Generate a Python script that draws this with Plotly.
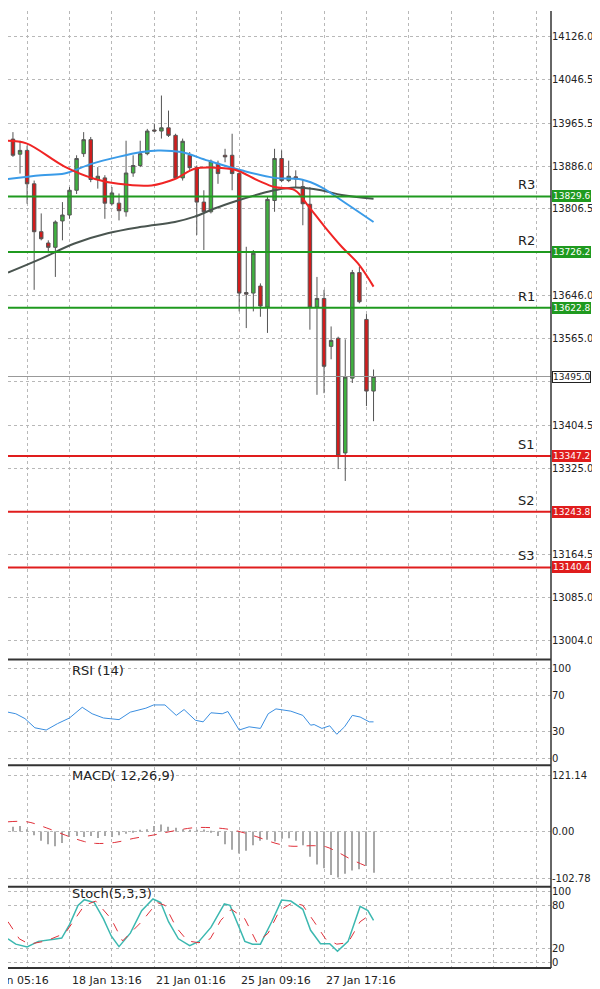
import plotly.graph_objects as go

# candles (4h-ish bars), index 0..51
opens = [13936, 13908, 13915, 13853, 13764, 13743, 13735, 13784, 13795, 13841, 13909, 13935, 13861,
         13864, 13816, 13817, 13801, 13873, 13887, 13909, 13953, 13951, 13957, 13943, 13864, 13906,
         13883, 13819, 13801, 13891, 13906, 13906, 13872, 13651, 13650, 13663, 13624, 13822, 13900,
         13859, 13866, 13848, 13815, 13624, 13640, 13551, 13566, 13353, 13492, 13688, 13601, 13468]
highs = [13949, 13933, 13924, 13859, 13798, 13748, 13785, 13819, 13847, 13906, 13949, 13940, 13884,
         13869, 13847, 13835, 13933, 13906, 13933, 13955, 13964, 14017, 13989, 13946, 13937, 13912,
         13887, 13841, 13898, 13896, 13918, 13946, 13878, 13736, 13730, 13668, 13829, 13918, 13915,
         13896, 13878, 13862, 13847, 13680, 13656, 13588, 13569, 13564, 13693, 13699, 13611, 13508]
lows = [13903, 13872, 13816, 13656, 13748, 13724, 13680, 13748, 13788, 13834, 13903, 13856, 13844,
        13788, 13813, 13785, 13792, 13866, 13884, 13906, 13949, 13937, 13940, 13862, 13859, 13878,
        13758, 13730, 13798, 13853, 13893, 13841, 13616, 13585, 13616, 13606, 13576, 13801, 13856,
        13856, 13847, 13776, 13582, 13461, 13464, 13527, 13323, 13301, 13483, 13631, 13440, 13412]
closes = [13906, 13915, 13853, 13764, 13751, 13735, 13782, 13795, 13841, 13900, 13935, 13861, 13867,
          13817, 13836, 13803, 13873, 13887, 13909, 13951, 13951, 13957, 13943, 13864, 13932, 13883,
          13819, 13801, 13895, 13872, 13903, 13872, 13650, 13648, 13724, 13626, 13824, 13900, 13859,
          13867, 13862, 13816, 13624, 13640, 13514, 13562, 13348, 13494, 13688, 13634, 13468, 13495]

ma_fast_x = [-0.7, 1.9, 7.3, 11.6, 14.9, 19.6, 22.9, 25.7, 28.5, 31.4, 34.7, 37, 39.9, 41.7, 44.1, 46.5, 48.8, 51]
ma_fast = [13933, 13928, 13885, 13862, 13853, 13850, 13862, 13881, 13883, 13879, 13859, 13847, 13841, 13813, 13773, 13736, 13705, 13662]
ma_mid_x = [-0.7, 4, 7.3, 11.1, 14.9, 18.2, 20.5, 23.8, 27.6, 32.3, 37, 40.8, 43.6, 46.5, 51]
ma_mid = [13862, 13869, 13872, 13890, 13903, 13912, 13915, 13912, 13896, 13878, 13864, 13861, 13847, 13822, 13782]
ma_slow_x = [-0.7, 4, 8.7, 13.4, 18.2, 22.9, 25.7, 28.5, 31.8, 35.1, 37, 39.9, 43.6, 46.5, 51]
ma_slow = [13688, 13714, 13742, 13761, 13773, 13782, 13792, 13807, 13822, 13835, 13841, 13846, 13841, 13832, 13825]

levels = {"R3": 13829.6, "R2": 13726.2, "R1": 13622.8, "S1": 13347.2, "S2": 13243.8, "S3": 13140.4}
last_price = 13495.0
price_ticks = [14126.0, 14046.5, 13965.5, 13886.0, 13806.5, 13726.2, 13646.0, 13565.0, 13485.5,
               13404.5, 13325.0, 13245.0, 13164.5, 13085.0, 13004.0]
price_labels = ["14126.0", "14046.5", "13965.5", "13886.0", "13806.5", "", "13646.0", "13565.0", "",
                "13404.5", "13325.0", "", "13164.5", "13085.0", "13004.0"]

rsi_x = [-0.7, 0.4, 1.7, 3.1, 4.7, 6.3, 8, 9.8, 11.2, 12.8, 15, 16.6, 18.8, 19.9, 21.5, 23.1, 24.2, 25.8,
         26.9, 28, 29.6, 30.4, 32, 33.4, 35, 36.1, 37.2, 39.3, 41, 42.1, 42.6, 43.7, 44.8, 45.8, 46.9,
         48, 49.1, 50.4, 51]
rsi = [51.8, 50, 44.6, 34.4, 31.9, 39, 45.3, 57.2, 50, 45.3, 43.5, 51.8, 56.2, 59.8, 59.8, 48.2, 54.7,
       42.8, 41, 51.1, 50, 52.5, 31.9, 35.5, 33.7, 50, 55.4, 52.9, 48.2, 37.3, 38, 33.7, 36.6, 27.2,
       35.5, 48.2, 46.4, 41, 41]

macd_hist = [10, 12, 5, -8, -20, -28, -32, -25, -12, -10, -12, -10, -14, -10, -12, -8, -5, -3, 2, 5,
             12, 15, 10, 8, 5, 3, 2, 4, -3, -10, -28, -40, -48, -42, -30, -20, -18, -22, -16, -15,
             -20, -30, -55, -72, -80, -95, -100, -92, -85, -82, -75, -90]
sig_x = [-0.7, 2, 4.7, 7.4, 10.1, 11.7, 14.4, 17.1, 19.8, 22, 24.7, 26.3, 29.6, 31.8, 34.5, 37.2, 39.3, 42.6, 44.2, 45.8, 48, 51]
macd_sig = [21, 21, 8, -8, -22, -26, -24, -15, -8, -1, 6.5, 8.7, 6.5, 0.7, -11.6, -26, -32, -31, -33, -44, -62, -82]

st_x = [-0.7, 0.4, 2, 3.6, 5.8, 6.9, 8, 9.2, 10.1, 11.5, 12.8, 13.9, 15, 16.6, 18.2, 19.8, 20.9, 22,
        23.4, 25, 26.3, 28, 29.9, 30.7, 32, 32.8, 33.9, 35, 36.6, 38, 39.3, 41, 42.1, 43.5, 44.8, 45.9,
        47.4, 49.1, 50.2, 51]
stoch_k = [33, 25.5, 21.5, 29.4, 32.5, 34, 53, 80, 88, 84, 61, 37, 22, 41, 72.6, 89, 84, 57, 33,
           23.5, 29.4, 49, 82, 80, 49, 29.4, 25.5, 25.5, 57, 87.4, 86, 74.5, 45, 26, 26, 15.6, 29.4,
           78.5, 72.6, 59]
sd_x = [-0.7, 0.9, 2.3, 4.7, 7.4, 10.1, 11.7, 13.9, 15.5, 18.2, 20.4, 21.5, 23.1, 24.7, 26.3, 27.9,
        29.4, 30.9, 32.8, 34.5, 36.1, 37.7, 39.6, 41, 42.6, 44.2, 45.8, 47.4, 49.1, 50.7]
stoch_d = [57, 33, 25.5, 30, 41, 80, 86, 61, 30, 57, 84, 80, 49, 30, 27.5, 33, 59, 74.5, 61, 27.5,
           41, 72.6, 84, 80, 57, 33, 25.5, 27.5, 57, 68]

t_vals = [2, 8, 14, 20, 26, 32, 38, 44, 50, 56, 62, 68, 74]
t_labels = {2: "16 Jan 05:16", 8: "18 Jan 13:16", 20: "21 Jan 01:16", 32: "25 Jan 09:16", 44: "27 Jan 17:16"}

GREEN = "#1f9a1f"
RED = "#e01d1d"
GRID = "#b8b8b8"
idx = list(range(len(opens)))

fig = go.Figure()
fig.add_trace(go.Candlestick(x=idx, open=opens, high=highs, low=lows, close=closes,
                             increasing=dict(fillcolor="#3fb23f", line=dict(color="#555", width=1)),
                             decreasing=dict(fillcolor="#d21c1c", line=dict(color="#555", width=1)),
                             whiskerwidth=0, yaxis="y", xaxis="x"))
for xs, ys, col in [(ma_slow_x, ma_slow, "#4a5550"), (ma_mid_x, ma_mid, "#3a9be8"), (ma_fast_x, ma_fast, "#f02424")]:
    fig.add_trace(go.Scatter(x=xs, y=ys, mode="lines", line=dict(color=col, width=2, shape="spline"),
                             yaxis="y", xaxis="x"))

fig.add_trace(go.Scatter(x=rsi_x, y=rsi, mode="lines", line=dict(color="#3a8ee0", width=1),
                         yaxis="y2", xaxis="x"))
fig.add_trace(go.Bar(x=idx, y=macd_hist, width=0.15, marker=dict(color="#a8a8a8", line=dict(width=0)),
                     yaxis="y3", xaxis="x"))
fig.add_trace(go.Scatter(x=sig_x, y=macd_sig, mode="lines", line=dict(color="#e0303a", width=1, dash="dash", shape="spline"),
                         yaxis="y3", xaxis="x"))
fig.add_trace(go.Scatter(x=st_x, y=stoch_k, mode="lines", line=dict(color="#3cb8b0", width=1.5),
                         yaxis="y4", xaxis="x"))
fig.add_trace(go.Scatter(x=sd_x, y=stoch_d, mode="lines", line=dict(color="#e0303a", width=1, dash="dash"),
                         yaxis="y4", xaxis="x"))

shapes = []
annotations = []
for name, val in levels.items():
    col = GREEN if name.startswith("R") else RED
    shapes.append(dict(type="line", xref="paper", x0=0, x1=1, yref="y", y0=val, y1=val,
                       line=dict(color=col, width=2)))
    annotations.append(dict(xref="paper", x=0.975, yref="y", y=val, yanchor="bottom", yshift=2,
                            text=name, showarrow=False, font=dict(size=13, color="#222")))
    annotations.append(dict(xref="paper", x=1, xanchor="left", xshift=1, yref="y", y=val,
                            text="%.1f" % val, showarrow=False, bgcolor=col, bordercolor=col,
                            font=dict(size=9, color="white"), borderpad=0))
shapes.append(dict(type="line", xref="paper", x0=0, x1=1, yref="y", y0=last_price, y1=last_price,
                   line=dict(color="#999", width=1)))
annotations.append(dict(xref="paper", x=1, xanchor="left", xshift=1, yref="y", y=last_price,
                        text="%.1f" % last_price, showarrow=False, bgcolor="white", bordercolor="#222",
                        font=dict(size=9, color="#222"), borderpad=0))

for name, ref, yy in [("RSI (14)", "y2", 98), ("MACD( 12,26,9)", "y3", 121), ("Stoch(5,3,3)", "y4", 97)]:
    annotations.append(dict(xref="x", x=8, xanchor="left", yref=ref, y=yy, text=name, showarrow=False,
                            font=dict(size=13, color="#222")))
for t, lab in t_labels.items():
    annotations.append(dict(xref="x", x=t, xanchor="left", xshift=-50 if t == 2 else 0, yref="paper",
                            y=0, yanchor="top", yshift=-4, text=lab, showarrow=False,
                            font=dict(size=11, color="#222")))

# panel borders
for yb in [0.3224, 0.2119, 0.0849, 0.0]:
    shapes.append(dict(type="line", xref="paper", x0=0, x1=1, yref="paper", y0=yb, y1=yb,
                       line=dict(color="#333", width=2)))
shapes.append(dict(type="line", xref="paper", x0=1, x1=1, yref="paper", y0=0, y1=1,
                   line=dict(color="#333", width=1.5)))

axfont = dict(size=10, color="#222", family="DejaVu Sans")
fig.update_layout(
    width=600, height=989, margin=dict(l=0, r=57, t=0, b=29),
    paper_bgcolor="white", plot_bgcolor="white", showlegend=False,
    font=dict(family="DejaVu Sans"),
    xaxis=dict(range=[-0.7, 76.1], tickvals=t_vals, ticktext=[""] * len(t_vals), showgrid=True,
               gridcolor=GRID, griddash="dot", zeroline=False, rangeslider=dict(visible=False),
               ticks="", anchor="y4"),
    yaxis=dict(domain=[0.325, 1], range=[12974, 14174], side="right", tickvals=price_ticks,
               ticktext=price_labels, gridcolor=GRID, griddash="dot", zeroline=False, tickfont=axfont,
               anchor="x"),
    yaxis2=dict(domain=[0.2135, 0.3198], range=[-5.5, 107.6], side="right", tickvals=[0, 30, 70, 100],
                gridcolor=GRID, griddash="dot", zeroline=False, tickfont=axfont, anchor="x"),
    yaxis3=dict(domain=[0.0865, 0.2104], range=[-117, 141], side="right", tickvals=[-102.78, 0, 121.14],
                ticktext=["-102.78", "0.00", "121.14"], gridcolor=GRID, griddash="dot", zeroline=False,
                tickfont=axfont, anchor="x"),
    yaxis4=dict(domain=[0, 0.0833], range=[-8, 104], side="right", tickvals=[0, 20, 80, 100],
                gridcolor=GRID, griddash="dot", zeroline=False, tickfont=axfont, anchor="x"),
    shapes=shapes, annotations=annotations,
)
fig.write_html("out.html")
